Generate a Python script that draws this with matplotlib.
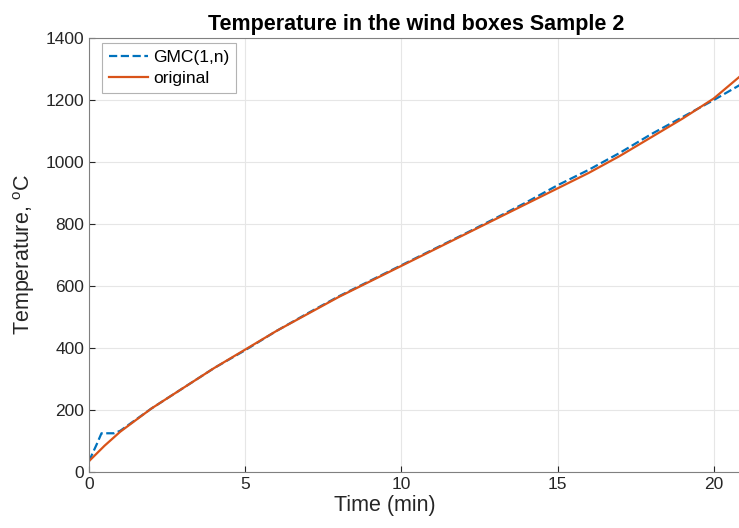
import matplotlib.pyplot as plt
import numpy as np

# values (time in minutes, temperature in deg C)
t_orig = [0, 0.5, 1, 2, 3, 4, 5, 6, 7, 8, 9, 10, 11, 12, 13, 14, 15, 16, 17, 18, 19, 20, 21]
temp_orig = [35, 85, 130, 205, 270, 335, 395, 455, 510, 565, 615, 665, 715, 765, 815,
             865, 915, 965, 1020, 1080, 1140, 1205, 1290]

t_gmc = [0, 0.25, 0.4, 0.8, 1.0, 2, 3, 4, 5, 6, 7, 8, 9, 10, 11, 12, 13, 14, 15, 16,
         17, 18, 19, 20, 21]
temp_gmc = [35, 90, 125, 125, 133, 205, 270, 335, 393, 455, 512, 567, 617, 667, 717,
            767, 818, 870, 925, 975, 1030, 1090, 1145, 1200, 1258]

plt.rcParams['font.family'] = ['Liberation Sans', 'DejaVu Sans']
plt.rcParams['mathtext.fontset'] = 'custom'
plt.rcParams['mathtext.rm'] = 'Liberation Sans'

fig = plt.figure(figsize=(7.39, 5.28), dpi=100)
ax = fig.add_axes([0.1204, 0.106, 0.93, 0.822])

ax.plot(t_gmc, temp_gmc, '--', color='#0072BD', linewidth=1.6, label='GMC(1,n)')
ax.plot(t_orig, temp_orig, '-', color='#D95319', linewidth=1.6, label='original')

ax.set_xlim(0, 22)
ax.set_ylim(0, 1400)
ax.set_xticks([0, 5, 10, 15, 20])
ax.set_yticks(np.arange(0, 1401, 200))
ax.grid(True, color='#e6e6e6', linewidth=0.8)
ax.set_axisbelow(True)
ax.tick_params(direction='in', labelsize=12.5, colors='#262626', length=4)
for s in ax.spines.values():
    s.set_color('#808080')

ax.set_title('Temperature in the wind boxes Sample 2', fontsize=15.5, fontweight='bold', x=0.476)
ax.set_xlabel('Time (min)', fontsize=15.5, color='#262626', x=0.43, labelpad=2)
ax.set_ylabel('Temperature, $^{\\mathrm{o}}$C', fontsize=15.5, color='#262626', labelpad=6)

leg = ax.legend(loc='upper left', bbox_to_anchor=(0.012, 1.0), fontsize=12.5,
                frameon=True, fancybox=False, edgecolor='#a0a0a0', borderaxespad=0.3,
                borderpad=0.4, handlelength=2.2, handletextpad=0.3, labelspacing=0.3)
leg.get_frame().set_linewidth(0.8)

fig.savefig('out.png', dpi=100)
